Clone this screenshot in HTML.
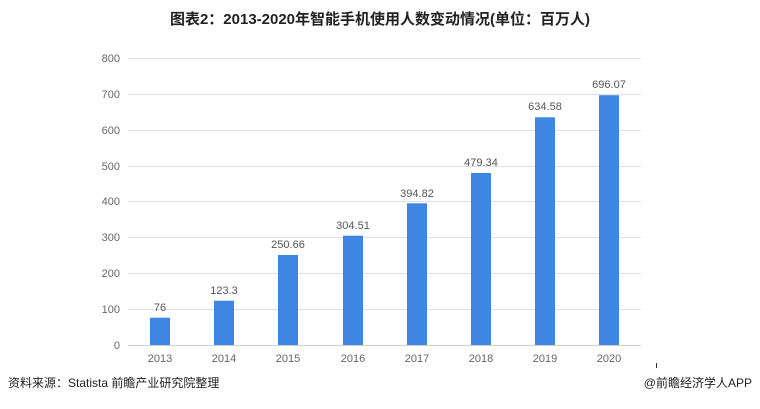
<!DOCTYPE html>
<html><head><meta charset="utf-8"><style>
body{margin:0;background:#fff;width:760px;height:404px;overflow:hidden;font-family:"Liberation Sans","Noto Sans CJK SC",sans-serif}
</style></head><body>
<svg width="760" height="404" xmlns="http://www.w3.org/2000/svg" font-family="Liberation Sans, Noto Sans CJK SC, sans-serif">
<text x="380" y="24" text-anchor="middle" font-size="15" font-weight="bold" fill="#222">图表2：2013-2020年智能手机使用人数变动情况(单位：百万人)</text>
<g stroke="#e0e0e0" stroke-width="1">
<line x1="128" x2="641" y1="58.5" y2="58.5"/><line x1="128" x2="641" y1="94.5" y2="94.5"/>
<line x1="128" x2="641" y1="130.5" y2="130.5"/><line x1="128" x2="641" y1="166.5" y2="166.5"/>
<line x1="128" x2="641" y1="201.5" y2="201.5"/><line x1="128" x2="641" y1="237.5" y2="237.5"/>
<line x1="128" x2="641" y1="273.5" y2="273.5"/><line x1="128" x2="641" y1="309.5" y2="309.5"/>
<line x1="128" x2="641" y1="345.5" y2="345.5" stroke="#d0d0d0"/>
</g>
<g font-size="11" fill="#666" text-anchor="end">
<text x="120" y="62">800</text><text x="120" y="98">700</text><text x="120" y="134">600</text>
<text x="120" y="170">500</text><text x="120" y="205">400</text><text x="120" y="241">300</text>
<text x="120" y="277">200</text><text x="120" y="313">100</text><text x="120" y="349">0</text>
</g>
<g fill="#3f86e2">
<rect x="150" y="317.7" width="20" height="27.3"/>
<rect x="214" y="300.7" width="20" height="44.3"/>
<rect x="278" y="255" width="20" height="90"/>
<rect x="343" y="235.7" width="20" height="109.3"/>
<rect x="407" y="203.3" width="20" height="141.7"/>
<rect x="471" y="173" width="20" height="172"/>
<rect x="535" y="117.3" width="20" height="227.7"/>
<rect x="599" y="95.2" width="20" height="249.8"/>
</g>
<g font-size="11" fill="#555" text-anchor="middle">
<text x="160" y="311">76</text><text x="224" y="294">123.3</text><text x="288" y="248">250.66</text>
<text x="353" y="229">304.51</text><text x="417" y="197">394.82</text><text x="481" y="166">479.34</text>
<text x="545" y="110">634.58</text><text x="609" y="88">696.07</text>
</g>
<g font-size="11" fill="#666" text-anchor="middle">
<text x="160" y="362">2013</text><text x="224" y="362">2014</text><text x="288" y="362">2015</text>
<text x="353" y="362">2016</text><text x="417" y="362">2017</text><text x="481" y="362">2018</text>
<text x="545" y="362">2019</text><text x="609" y="362">2020</text>
</g>
<line x1="656.5" x2="656.5" y1="363" y2="368" stroke="#333"/>
<text x="8" y="387" font-size="12" fill="#222">资料来源：Statista 前瞻产业研究院整理</text>
<text x="752" y="387" font-size="12" fill="#222" text-anchor="end">@前瞻经济学人APP</text>
</svg>
</body></html>
